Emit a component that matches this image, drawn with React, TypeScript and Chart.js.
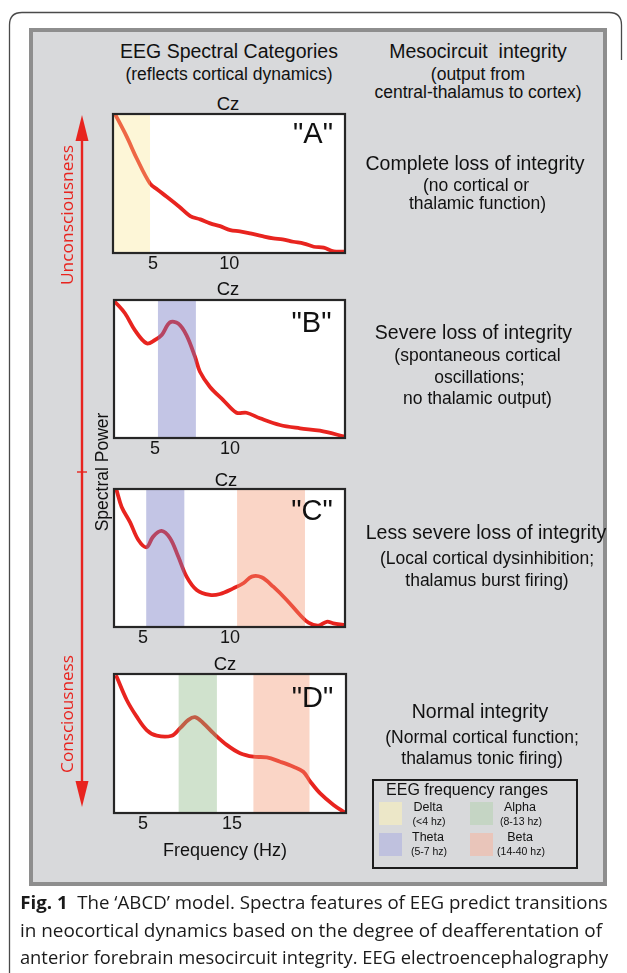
import React, { useEffect, useLayoutEffect, useRef } from 'react';
import { Chart, registerables } from 'chart.js';

Chart.register(...registerables);

// ---------- DATA ----------
const FREQ_A = [2.5, 3.27, 3.93, 4.8, 5.3, 5.9, 6.7, 7.44, 8.1, 8.75, 9.4, 10.07, 10.7, 11.38, 12.1, 12.9, 13.5, 14.2, 14.9, 15.55, 16.2, 16.86, 17.6];
const POWER_A = [100, 83.7, 68, 50, 45.5, 40.5, 33.5, 26.6, 24.2, 21.3, 19.3, 16.5, 15.6, 14.1, 12.3, 10.5, 9.8, 8.1, 6.8, 4.5, 3.8, 1.2, 1];

const FREQ_B = [2.33, 3.0, 3.67, 4.44, 5.0, 5.45, 6.0, 6.55, 7.1, 7.67, 8.0, 8.67, 9.55, 10.44, 11.1, 12.0, 13.33, 14.67, 16.0, 17.67];
const POWER_B = [98.8, 90.4, 78, 68.6, 71, 74.6, 83.8, 83, 74.6, 58.9, 48, 37, 27.5, 18.3, 18.3, 14.3, 9.4, 7, 5.3, 1];

const FREQ_C = [3.48, 3.77, 4.25, 4.73, 5.2, 5.58, 6.06, 6.55, 7.02, 7.5, 8.08, 8.84, 9.42, 10.18, 10.76, 11.24, 11.81, 12.48, 13.25, 14.02, 14.5, 15.07, 15.55, 15.93, 16.5];
const POWER_C = [99, 87, 76, 63, 57.8, 65.5, 69.6, 64.3, 51, 36.5, 26.8, 23.2, 23.9, 28, 31.7, 36.5, 36, 29.2, 19.6, 8.7, 3.1, 1, 3.8, 2.7, 1.5];

const FREQ_D = [2.04, 3.17, 4.29, 5.41, 6.54, 8.22, 9.16, 10.1, 10.84, 11.78, 12.9, 14.4, 15.9, 17.4, 18.9, 20.4, 21.9, 23.0, 23.8, 24.9, 26.4, 27.7];
const POWER_D = [98, 81.3, 69.3, 59.7, 55.6, 55.6, 61, 67, 68.9, 64.6, 57.4, 49, 43, 40.5, 40, 36.9, 33.3, 29.7, 22.5, 14.1, 5.8, 0.2];

const RANGE_A = [2.37, 17.6];
const RANGE_B = [2.27, 17.67];
const RANGE_C = [3.33, 16.6];
const RANGE_D = [1.74, 27.8];

const TICKS_A = [5, 10];
const TICKS_B = [5, 10];
const TICKS_C = [5, 10];
const TICKS_D = [5, 15];

const BANDS_A = [{ from: 0, to: 4.8, kind: 'delta' }];
const BANDS_B = [{ from: 5.2, to: 7.73, kind: 'theta' }];
const BANDS_C = [{ from: 5.18, to: 7.37, kind: 'theta' }, { from: 10.4, to: 14.3, kind: 'beta' }];
const BANDS_D = [{ from: 9.0, to: 13.3, kind: 'alpha' }, { from: 17.4, to: 23.7, kind: 'beta' }];

const LEGEND_ITEMS = [
  { name: 'Delta', range: '(<4 hz)', kind: 'delta' },
  { name: 'Theta', range: '(5-7 hz)', kind: 'theta' },
  { name: 'Alpha', range: '(8-13 hz)', kind: 'alpha' },
  { name: 'Beta', range: '(14-40 hz)', kind: 'beta' },
];

// ---------- STYLE ----------
const SANS = "'Liberation Sans', Arial, sans-serif";
const HUM = "'Open Sans', 'Noto Sans', sans-serif";
const RED = '#e8241f';
const BAND_OVER: Record<string, string> = {
  delta: 'rgba(248,230,140,0.35)',
  theta: 'rgba(112,117,193,0.42)',
  alpha: 'rgba(137,182,130,0.4)',
  beta: 'rgba(242,150,112,0.4)',
};
const BAND_SWATCH: Record<string, string> = {
  delta: '#ece7c8',
  theta: '#bfc1de',
  alpha: '#c5d5c4',
  beta: '#e9c5ba',
};

const bandPlugin = {
  id: 'bands',
  beforeDraw(chart: any) {
    const { ctx, chartArea: a } = chart;
    ctx.save();
    ctx.fillStyle = '#ffffff';
    ctx.fillRect(a.left, a.top, a.right - a.left, a.bottom - a.top);
    ctx.restore();
  },
  afterDatasetsDraw(chart: any, _args: any, opts: any) {
    const { ctx, chartArea: a } = chart;
    const xs = chart.scales.x;
    ctx.save();
    (opts.bands || []).forEach((b: any) => {
      const x1 = Math.max(a.left, xs.getPixelForValue(b.from));
      const x2 = Math.min(a.right, xs.getPixelForValue(b.to));
      ctx.fillStyle = BAND_OVER[b.kind];
      ctx.fillRect(x1, a.top, x2 - x1, a.bottom - a.top);
    });
    ctx.restore();
  },
  afterDraw(chart: any) {
    const { ctx, chartArea: a } = chart;
    ctx.save();
    ctx.strokeStyle = '#262626';
    ctx.lineWidth = 2.2;
    ctx.strokeRect(a.left, a.top, a.right - a.left, a.bottom - a.top);
    ctx.restore();
  },
};

const M = 10;
const TP = 4;
const AX = 30;

function Panel(props: { left: number; top: number; w: number; h: number; freq: number[]; power: number[]; range: number[]; ticks: number[]; bands: any[] }) {
  const ref = useRef<HTMLCanvasElement>(null);
  useEffect(() => {
    const { freq, power, range, ticks, bands } = props;
    const chart = new Chart(ref.current as HTMLCanvasElement, {
      type: 'line',
      data: {
        datasets: [
          {
            data: freq.map((f, i) => ({ x: f, y: power[i] })),
            borderColor: RED,
            borderWidth: 3.8,
            pointRadius: 0,
            tension: 0.35,
            fill: false,
            borderCapStyle: 'round',
            borderJoinStyle: 'round',
          } as any,
        ],
      },
      options: {
        animation: false,
        responsive: false,
        maintainAspectRatio: false,
        devicePixelRatio: 1,
        layout: { padding: { left: M, right: M, top: TP, bottom: 0 } },
        plugins: {
          legend: { display: false },
          tooltip: { enabled: false },
          title: { display: false },
          bands: { bands },
        } as any,
        scales: {
          x: {
            type: 'linear',
            min: range[0],
            max: range[1],
            grid: { display: false, drawTicks: false },
            border: { display: false },
            afterBuildTicks: (s: any) => {
              s.ticks = ticks.map((v) => ({ value: v }));
            },
            afterFit: (s: any) => {
              s.height = AX;
            },
            ticks: { padding: 0, color: '#151515', font: { size: 18, family: SANS } },
          } as any,
          y: { display: false, min: 0, max: 100 },
        },
      },
      plugins: [bandPlugin as any],
    });
    return () => chart.destroy();
  }, []);
  const cw = props.w + 2 * M;
  const ch = props.h + TP + AX;
  return (
    <canvas
      ref={ref}
      width={cw}
      height={ch}
      style={{ position: 'absolute', left: props.left - M, top: props.top - TP, width: cw, height: ch }}
    />
  );
}

function T(props: { x: number; y: number; s: number; children: any; color?: string; fam?: string; weight?: number; rot?: number; w?: number }) {
  const ref = useRef<HTMLSpanElement>(null);
  const rot = props.rot || 0;
  useLayoutEffect(() => {
    const apply = () => {
      const el = ref.current;
      if (!el) return;
      let k = 1;
      if (props.w) k = props.w / el.offsetWidth;
      el.style.transform = `translate(-50%,-50%) rotate(${rot}deg) scaleX(${k})`;
    };
    apply();
    if ((document as any).fonts && (document as any).fonts.ready) (document as any).fonts.ready.then(apply);
  });
  return (
    <div style={{ position: 'absolute', left: props.x, top: props.y, width: 0, height: 0 }}>
      <span
        ref={ref}
        style={{
          position: 'absolute',
          left: 0,
          top: 0,
          whiteSpace: 'pre',
          fontFamily: props.fam || SANS,
          fontSize: props.s,
          fontWeight: props.weight || 400,
          lineHeight: 1.2,
          color: props.color || '#111',
          transform: `translate(-50%,-50%) rotate(${rot}deg)`,
        }}
      >
        {props.children}
      </span>
    </div>
  );
}

export default function App() {
  return (
    <div style={{ position: 'absolute', left: 0, top: 0, width: 627, height: 973, background: '#fff', overflow: 'hidden' }}>
      {/* card outline */}
      <svg width={627} height={973} style={{ position: 'absolute', left: 0, top: 0 }}>
        <path d="M9.5 973 L9.5 25 Q9.5 12.5 22 12.5 L609 12.5 Q621.5 12.5 621.5 25 L621.5 60" fill="none" stroke="#4a4a4a" strokeWidth={1.3} />
      </svg>
      {/* gray panel */}
      <div style={{ position: 'absolute', left: 29, top: 28, width: 578, height: 858, boxSizing: 'border-box', border: '4px solid #8e8e8e', background: '#d8d9db' }} />

      {/* headers */}
      <T x={229} y={52} s={19.5}>EEG Spectral Categories</T>
      <T x={229} y={74} s={17.5}>(reflects cortical dynamics)</T>
      <T x={478} y={52} s={19.5}>{'Mesocircuit  integrity'}</T>
      <T x={478} y={74} s={17.5}>(output from</T>
      <T x={478} y={92} s={17.5}>central-thalamus to cortex)</T>

      {/* panels */}
      <T x={228} y={104} s={18.5}>Cz</T>
      <Panel left={113} top={114} w={232} h={139} freq={FREQ_A} power={POWER_A} range={RANGE_A} ticks={TICKS_A} bands={BANDS_A} />
      <T x={228} y={289} s={18.5}>Cz</T>
      <Panel left={114} top={300} w={231} h={138} freq={FREQ_B} power={POWER_B} range={RANGE_B} ticks={TICKS_B} bands={BANDS_B} />
      <T x={226} y={480} s={18.5}>Cz</T>
      <Panel left={114} top={489} w={231} h={138} freq={FREQ_C} power={POWER_C} range={RANGE_C} ticks={TICKS_C} bands={BANDS_C} />
      <T x={225} y={664} s={18.5}>Cz</T>
      <Panel left={114} top={674} w={232} h={139} freq={FREQ_D} power={POWER_D} range={RANGE_D} ticks={TICKS_D} bands={BANDS_D} />

      <T x={313} y={133} s={29}>"A"</T>
      <T x={311.5} y={322} s={29}>"B"</T>
      <T x={312} y={510} s={29}>"C"</T>
      <T x={312.5} y={697} s={29}>"D"</T>

      <T x={225} y={851} s={18}>Frequency (Hz)</T>
      <T x={102} y={472} s={17.5} rot={-90}>Spectral Power</T>

      {/* consciousness arrow */}
      <svg width={627} height={973} style={{ position: 'absolute', left: 0, top: 0 }}>
        <line x1={82} y1={136} x2={82} y2={786} stroke={RED} strokeWidth={2.4} />
        <polygon points="75.5,141 88.5,141 82,115" fill={RED} />
        <polygon points="75.5,781 88.5,781 82,807" fill={RED} />
        <line x1={77} y1={472} x2={87} y2={472} stroke={RED} strokeWidth={1.4} />
      </svg>
      <T x={67} y={215} s={17} fam={HUM} color={RED} rot={-90} w={140}>Unconsciousness</T>
      <T x={67} y={714} s={17} fam={HUM} color={RED} rot={-90} w={118}>Consciousness</T>

      {/* right column */}
      <T x={475} y={164} s={19.5}>Complete loss of integrity</T>
      <T x={476} y={185} s={17.5}>(no cortical or</T>
      <T x={477.5} y={203} s={17.5}>thalamic function)</T>

      <T x={473.5} y={333} s={19.5}>Severe loss of integrity</T>
      <T x={477.5} y={355} s={17.5}>(spontaneous cortical</T>
      <T x={479.5} y={377} s={17.5}>oscillations;</T>
      <T x={477.5} y={398} s={17.5}>no thalamic output)</T>

      <T x={486} y={533} s={19.5}>Less severe loss of integrity</T>
      <T x={487} y={558} s={17.5}>(Local cortical dysinhibition;</T>
      <T x={487} y={580} s={17.5}>thalamus burst firing)</T>

      <T x={480} y={712} s={19.5}>Normal integrity</T>
      <T x={482} y={737} s={17.5}>(Normal cortical function;</T>
      <T x={482} y={758} s={17.5}>thalamus tonic firing)</T>

      {/* legend */}
      <div style={{ position: 'absolute', left: 372, top: 779, width: 206, height: 90, boxSizing: 'border-box', border: '2px solid #1c1c1c' }} />
      <T x={467} y={790} s={16}>EEG frequency ranges</T>
      {LEGEND_ITEMS.map((it, i) => {
        const col = i < 2 ? 0 : 1;
        const row = i % 2;
        const sx = col === 0 ? 379 : 470;
        const sy = row === 0 ? 802 : 833;
        const tx = col === 0 ? 428 : 520;
        const ty = row === 0 ? 807 : 837;
        return (
          <React.Fragment key={it.name}>
            <div style={{ position: 'absolute', left: sx, top: sy, width: 23, height: 23, background: BAND_SWATCH[it.kind] }} />
            <T x={tx} y={ty} s={12.5}>{it.name}</T>
            <T x={tx + 1} y={ty + 14} s={10.5}>{it.range}</T>
          </React.Fragment>
        );
      })}

      {/* caption */}
      <T x={20 + 294} y={902} s={17.5} fam={HUM} color="#1a1a1a" w={588}>
        <b>Fig. 1</b>{'  The \u2018ABCD\u2019 model. Spectra features of EEG predict transitions'}
      </T>
      <T x={20 + 291} y={930} s={17.5} fam={HUM} color="#1a1a1a" w={582}>in neocortical dynamics based on the degree of deafferentation of</T>
      <T x={20 + 294} y={957} s={17.5} fam={HUM} color="#1a1a1a" w={588}>anterior forebrain mesocircuit integrity. EEG electroencephalography</T>
    </div>
  );
}
